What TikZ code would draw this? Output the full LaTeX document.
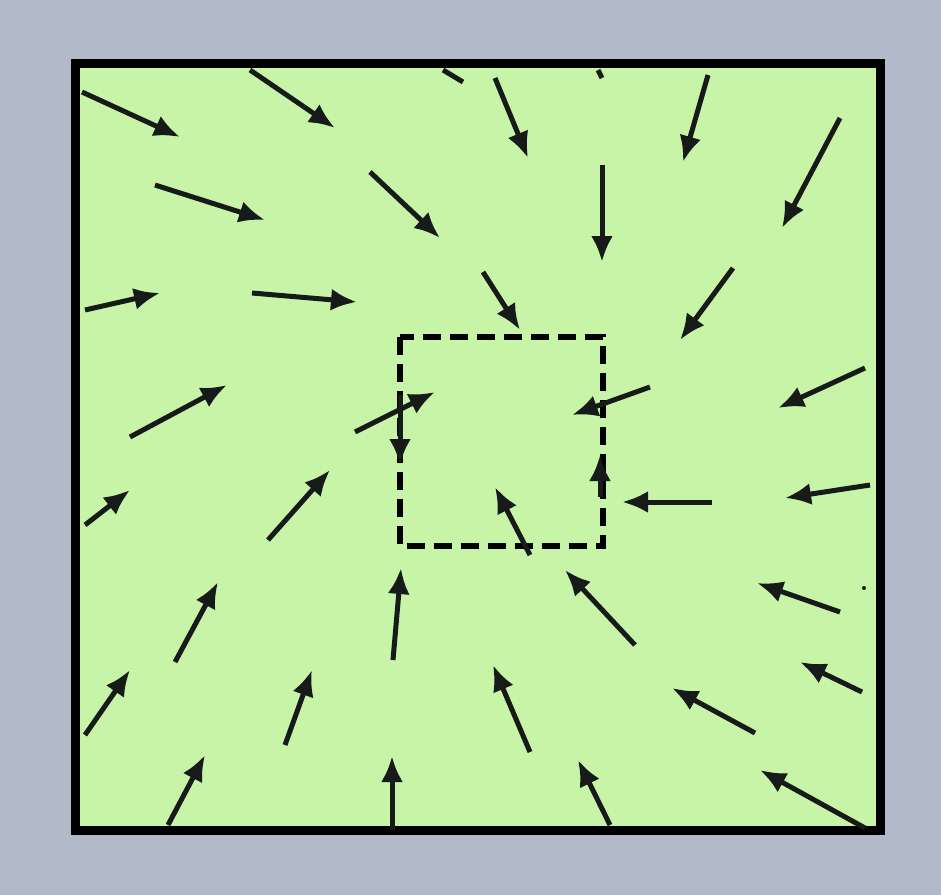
\documentclass[tikz,border=0pt]{standalone}
\usetikzlibrary{arrows.meta}
\definecolor{bgc}{RGB}{178,186,202}
\definecolor{fieldc}{RGB}{200,244,168}
\definecolor{inkc}{RGB}{22,26,24}
\tikzset{
  vec/.style={draw=inkc, line width=5pt, -{Latex[length=26pt,width=22pt]}},
  frag/.style={draw=inkc, line width=5pt},
  outerbox/.style={draw=black, line width=9pt, fill=fieldc},
  innerbox/.style={draw=black, line width=6pt, dash pattern=on 18pt off 9pt}
}
\begin{document}
\begin{tikzpicture}[x=1pt,y=-1pt]
\fill[bgc] (0,0) rectangle (941,895);
\useasboundingbox (0,0) rectangle (941,895);
\draw[outerbox] (75,63) rectangle (880,830);
\draw[innerbox] (400,337) rectangle (603,546);
% row 1
\draw[vec] (82,92) -- (180,137);
\draw[vec] (250,70) -- (335,128);
\draw[frag] (443,70) -- (463,82);
\draw[frag] (598,70) -- (602,78);
\draw[vec] (495,78) -- (528,158);
\draw[vec] (708,75) -- (683,162);
% row 2
\draw[vec] (155,185) -- (265,220);
\draw[vec] (370,172) -- (440,238);
\draw[vec] (602,165) -- (602,262);
\draw[vec] (840,118) -- (782,228);
% row 3
\draw[vec] (85,310) -- (160,293);
\draw[vec] (252,293) -- (357,302);
\draw[vec] (483,272) -- (520,330);
\draw[vec] (733,268) -- (680,340);
% row 4
\draw[vec] (130,437) -- (227,385);
\draw[vec] (355,432) -- (435,392);
\draw[vec] (400,395) -- (400,465);
\draw[vec] (650,387) -- (572,415);
\draw[vec] (865,368) -- (778,408);
% row 5
\draw[vec] (85,525) -- (130,490);
\draw[vec] (268,540) -- (330,470);
\draw[vec] (600,497) -- (600,455);
\draw[vec] (712,502) -- (622,502);
\draw[vec] (870,485) -- (785,498);
\draw[vec] (530,555) -- (495,487);
% row 6
\draw[vec] (85,735) -- (130,670);
\draw[vec] (175,662) -- (218,582);
\draw[vec] (393,660) -- (401,568);
\draw[vec] (635,645) -- (565,570);
\draw[vec] (840,612) -- (757,583);
% row 7
\draw[vec] (285,745) -- (312,670);
\draw[vec] (530,752) -- (493,665);
\draw[vec] (755,733) -- (672,688);
\draw[vec] (862,692) -- (800,662);
% row 8
\draw[vec] (168,825) -- (205,755);
\draw[vec] (392,830) -- (392,756);
\draw[vec] (610,825) -- (578,760);
\draw[vec] (865,828) -- (760,770);
\fill[inkc] (864,588) circle (2pt);
\end{tikzpicture}
\end{document}
